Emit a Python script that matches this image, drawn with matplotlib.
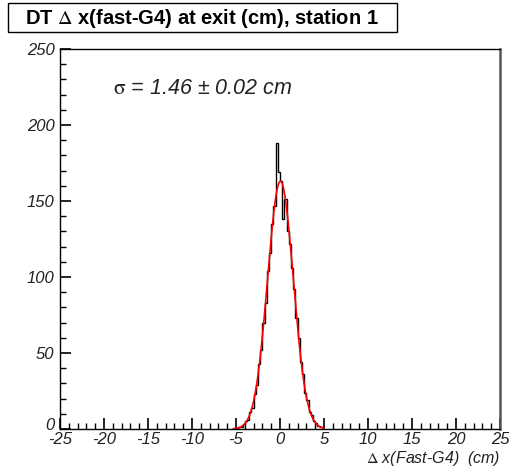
import numpy as np
import matplotlib
matplotlib.use("Agg")
import matplotlib.pyplot as plt
import matplotlib.transforms as mtransforms
from matplotlib.patches import Rectangle
from matplotlib.ticker import MultipleLocator

plt.rcParams['mathtext.fontset'] = 'stix'
plt.rcParams['axes.unicode_minus'] = False

# ---- data ----
bin_edges_lo = -5.0
bin_width = 0.25
counts = [0, 1, 1, 3, 5, 6, 11, 14, 23, 29,
          43, 52, 70, 83, 104, 116, 135, 147, 188, 169,
          163, 138, 151, 130, 122, 106, 92, 73, 60, 44,
          36, 24, 19, 11, 9, 5, 4, 2, 1, 1]
fit_const = 163.0
fit_mean = 0.05
fit_sigma = 1.46
fit_range = (-5.3, 5.0)
x_ticks = [-25, -20, -15, -10, -5, 0, 5, 10, 15, 20, 25]
y_ticks = [0, 50, 100, 150, 200, 250]
title = "DT $\\Delta$ x(fast-G4) at exit (cm), station 1"
sigma_text = "$\\mathrm{\\sigma}$ = 1.46 ± 0.02 cm"
x_label = "$\\Delta$ x(Fast-G4)  (cm)"

fig = plt.figure(figsize=(5.10, 4.67), dpi=100)
W, H = 510, 467
ax = fig.add_axes([60 / W, 1 - 429 / H, 440 / W, 380 / H])

edges = bin_edges_lo + bin_width * np.arange(len(counts) + 1)
ax.stairs(counts, edges, color='black', lw=1.0, baseline=None)
xf = np.linspace(fit_range[0], fit_range[1], 400)
yf = fit_const * np.exp(-0.5 * ((xf - fit_mean) / fit_sigma) ** 2)
ax.plot(xf, yf, color='#ff0000', lw=1.2)

ax.set_xlim(-25, 25)
ax.set_ylim(0, 250)
ax.set_xticks(x_ticks)
ax.set_yticks(y_ticks)
ax.xaxis.set_minor_locator(MultipleLocator(1))
ax.yaxis.set_minor_locator(MultipleLocator(10))
ax.tick_params(axis='both', which='major', direction='in', length=8, width=1.2,
               labelsize=12, top=False, right=False)
ax.tick_params(axis='both', which='minor', direction='in', length=4.3, width=1.0,
               top=False, right=False)
ax.tick_params(axis='x', pad=2)
ax.tick_params(axis='y', pad=4)
for lab in ax.get_xticklabels() + ax.get_yticklabels():
    lab.set_fontstyle('italic')
    lab.set_family('Liberation Sans')
    lab.set_color('#222222')
for sp in ax.spines.values():
    sp.set_linewidth(1.0)
ax.spines['right'].set_linewidth(1.8)
ax.spines['right'].set_color('#555555')

# nudge the "0" y label up a little so it does not sit on top of "-25"
ylab0 = ax.yaxis.get_major_ticks()[0].label1
ylab0.set_transform(ylab0.get_transform() +
                    mtransforms.ScaledTranslation(0, 5 / 100, fig.dpi_scale_trans))

fig.text(113 / W, 1 - 88 / H, sigma_text, fontsize=15.5, style='italic',
         family='Liberation Sans', va='center', ha='left', color='#222222')

fig.text(500 / W, 1 - 458 / H, x_label, fontsize=11.5, style='italic',
         family='Liberation Sans', va='center', ha='right', color='#222222')

fig.patches.append(Rectangle((8 / W, 1 - 32 / H), 389 / W, 29 / H,
                             transform=fig.transFigure, fill=False,
                             edgecolor='black', lw=1.0))
fig.text(202 / W, 1 - 18 / H, title, fontsize=14.5, weight='bold',
         family='Liberation Sans', va='center', ha='center')

fig.savefig("out.png", dpi=100)
